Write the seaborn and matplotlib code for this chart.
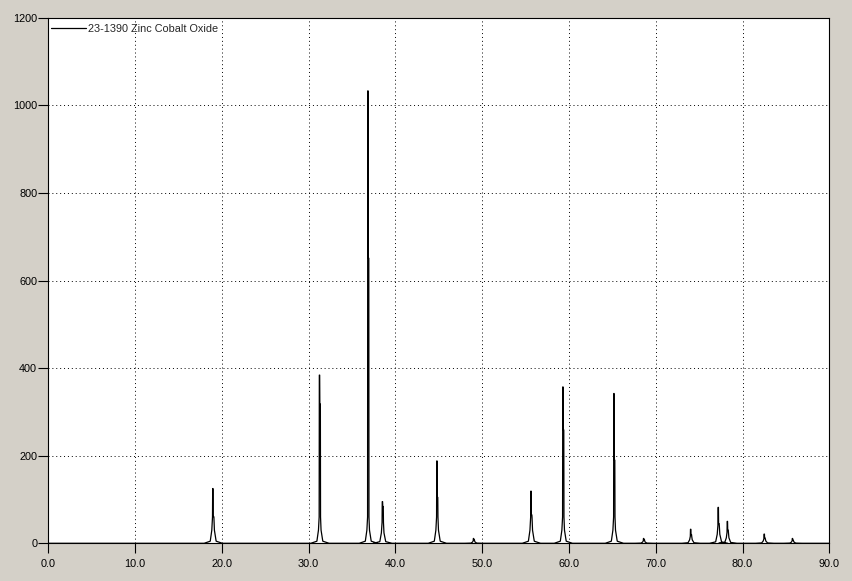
import numpy as np
import seaborn as sns
import matplotlib.pyplot as plt

# reflections (2-theta, peak counts, K-alpha2 step level)
peak_pos = [18.96, 31.25, 36.83, 38.50, 44.78, 49.00, 55.62, 59.30, 65.18,
            68.60, 74.02, 77.20, 78.25, 82.50, 85.75]
peak_int = [125, 384, 1033, 95, 188, 11, 119, 357, 342,
            11, 32, 82, 50, 21, 11]
peak_step = [61, 318, 651, 84, 105, 8, 65, 259, 190,
             8, 20, 45, 30, 12, 7]
card_label = "23-1390 Zinc Cobalt Oxide"
x_ticks = [0, 10, 20, 30, 40, 50, 60, 70, 80, 90]
y_ticks = [0, 200, 400, 600, 800, 1000, 1200]

# build the trace: baseline plus a spike outline for each reflection
two_theta = [0.0]
counts = [0.0]
for c, h, h2 in zip(peak_pos, peak_int, peak_step):
    b = min(60.0, 0.5 * h)
    two_theta += [c - 1.0, c - 0.3, c - 0.12, c - 0.04, c - 0.02, c + 0.02,
                  c + 0.04, c + 0.10, c + 0.12, c + 0.18, c + 0.38, c + 1.1]
    counts += [0, 0.08 * b, 0.5 * b, b, h, h, h2, h2, b, 0.5 * b, 0.08 * b, 0]
two_theta.append(90.0)
counts.append(0.0)

sns.set_style("white")
plt.rcParams['font.family'] = ['Liberation Sans', 'DejaVu Sans']

bg = '#d4d0c8'
fig = plt.figure(figsize=(8.52, 5.81), dpi=100, facecolor=bg)
ax = fig.add_axes([0.0567, 0.0649, 0.9167, 0.9046])
ax.set_facecolor('white')

sns.lineplot(x=two_theta, y=counts, estimator=None, sort=False, color='black',
             linewidth=0.9, label=card_label, ax=ax)

ax.set_xlim(0, 90)
ax.set_ylim(0, 1200)
ax.set_xticks(x_ticks)
ax.set_xticklabels([f"{v:.1f}" for v in x_ticks])
ax.set_yticks(y_ticks)
ax.set_yticklabels([str(v) for v in y_ticks])
ax.tick_params(axis='both', direction='out', length=7, width=0.8, color='black',
               labelsize=7.8, labelcolor='black', bottom=True, left=True)
ax.tick_params(axis='x', pad=4)
ax.tick_params(axis='y', pad=1)
ax.grid(True, color='black', linestyle=(0, (1, 3)), linewidth=0.7)
for s in ax.spines.values():
    s.set_color('black')
    s.set_linewidth(0.8)

leg = ax.legend(loc='upper left', bbox_to_anchor=(0.004, 0.988), frameon=False,
                fontsize=7.8, handlelength=3.2, handletextpad=0.2,
                borderaxespad=0, borderpad=0)

fig.savefig('out.png', dpi=100, facecolor=bg)
